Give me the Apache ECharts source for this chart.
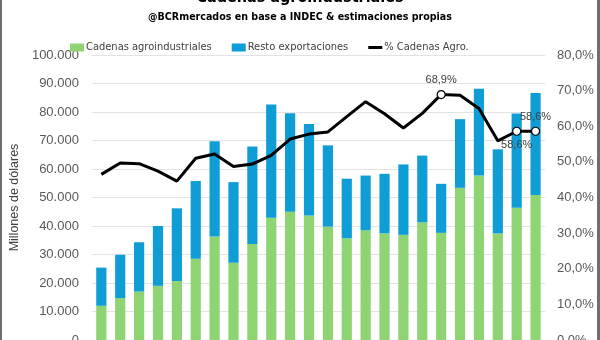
<!DOCTYPE html>
<html>
<head>
<meta charset="utf-8">
<script src="https://cdn.jsdelivr.net/npm/echarts@6/dist/echarts.min.js"></script>
<style>
html,body{margin:0;padding:0;background:#fff;overflow:hidden;width:600px;height:340px;}
#c{position:absolute;left:0;top:-20px;width:600px;height:380px;}
</style>
</head>
<body>
<div id="c"></div>
<script>
// ---- data (millones de dólares / %) ----
const years = ['2002','2003','2004','2005','2006','2007','2008','2009','2010','2011','2012','2013','2014','2015','2016','2017','2018','2019','2020','2021','2022','2023','2024','2025'];
const agro  = [12000,14700,17000,19000,20700,28500,36300,27100,33700,42900,45000,43700,39800,35700,38500,37400,36900,41300,37600,53400,57700,37400,46400,50900];
const resto = [13400,15200,17300,21000,25500,27300,33400,28300,34200,39700,34600,32100,28500,20900,19200,20900,24700,23400,17200,24100,30500,29500,33100,35800];
const pct   = [46.5,49.7,49.5,47.4,44.6,51.0,52.2,48.7,49.4,51.8,56.4,57.8,58.4,62.7,66.9,63.5,59.5,63.6,68.9,68.7,65.0,55.9,58.6,58.6];
const labelled = {18:'top', 22:'bottom', 23:'top'};
const leftTicks = [0,100000,10000];
const rightTicks = [0,80,10];

const fmtThousands = v => v === 0 ? '0' : String(v).replace(/\B(?=(\d{3})+(?!\d))/g, '.');
const fmtPct = v => v.toFixed(1).replace('.', ',') + '%';
const headFont = 'Liberation Sans Narrow, DejaVu Sans Condensed, sans-serif';

const lineData = pct.map((v, i) => {
  if (labelled[i]) {
    return {
      value: v, symbol: 'circle', symbolSize: 8,
      itemStyle: {color: '#fff', borderColor: '#000', borderWidth: 1.2},
      label: {show: true, position: labelled[i], distance: 4, formatter: p => fmtPct(p.value),
              fontFamily: 'Liberation Sans', fontSize: 11, color: '#404040'}
    };
  }
  return {value: v};
});

const chart = echarts.init(document.getElementById('c'), null, {renderer: 'canvas'});
chart.setOption({
  animation: false,
  backgroundColor: '#fff',
  textStyle: {fontFamily: 'Liberation Sans'},
  title: [
    {text: 'Cadenas agroindustriales', left: 'center', top: 5,
     textStyle: {fontFamily: headFont, fontWeight: 'bold', fontSize: 16, color: '#000'}},
    {text: '@BCRmercados en base a INDEC & estimaciones propias', left: 'center', top: 27,
     textStyle: {fontFamily: headFont, fontWeight: 'bold', fontSize: 10.6, color: '#000'}}
  ],
  legend: {
    top: 57, left: 65, itemWidth: 14, itemHeight: 8, itemGap: 20,
    textStyle: {fontFamily: headFont, fontSize: 11, color: '#404040', padding: [0,0,0,-3]},
    data: [
      {name: 'Cadenas agroindustriales', icon: 'rect'},
      {name: 'Resto exportaciones', icon: 'rect'},
      {name: '% Cadenas Agro.', icon: 'path://M0,0L14,0L14,3L0,3Z', itemStyle: {color: '#000'}}
    ]
  },
  grid: {left: 76, right: 55, top: 75, bottom: 17, containLabel: false},
  xAxis: {
    type: 'category', data: years,
    axisLine: {lineStyle: {color: '#d9d9d9'}}, axisTick: {show: false},
    axisLabel: {color: '#595959', fontSize: 12}
  },
  yAxis: [
    {type: 'value', min: leftTicks[0], max: leftTicks[1], interval: leftTicks[2],
     name: 'Millones de dólares', nameLocation: 'middle', nameGap: 64, nameRotate: 90,
     nameTextStyle: {fontFamily: 'Liberation Sans', fontSize: 12.5, color: '#404040'},
     axisLine: {show: false}, axisTick: {show: false},
     axisLabel: {formatter: fmtThousands, color: '#595959', fontSize: 13, margin: 13},
     splitLine: {lineStyle: {color: '#e3e3e3', width: 1}}},
    {type: 'value', min: rightTicks[0], max: rightTicks[1], interval: rightTicks[2], position: 'right',
     axisLine: {show: false}, axisTick: {show: false},
     axisLabel: {formatter: v => fmtPct(v), color: '#595959', fontSize: 13, margin: 12},
     splitLine: {show: false}}
  ],
  series: [
    {name: 'Cadenas agroindustriales', type: 'bar', stack: 'x', data: agro, barCategoryGap: '46%',
     itemStyle: {color: '#8ED473'}},
    {name: 'Resto exportaciones', type: 'bar', stack: 'x', data: resto,
     itemStyle: {color: '#0F9DD5'}},
    {name: '% Cadenas Agro.', type: 'line', yAxisIndex: 1, data: lineData, symbol: 'none', showSymbol: true,
     lineStyle: {color: '#000', width: 3}, itemStyle: {color: '#000'}, z: 5}
  ],
  graphic: [
    {type: 'rect', shape: {x: 0, y: 0, width: 2, height: 380}, style: {fill: '#6f6f6f'}},
    {type: 'rect', shape: {x: 597, y: 0, width: 3, height: 380}, style: {fill: '#6f6f6f'}}
  ]
});
</script>
</body>
</html>
